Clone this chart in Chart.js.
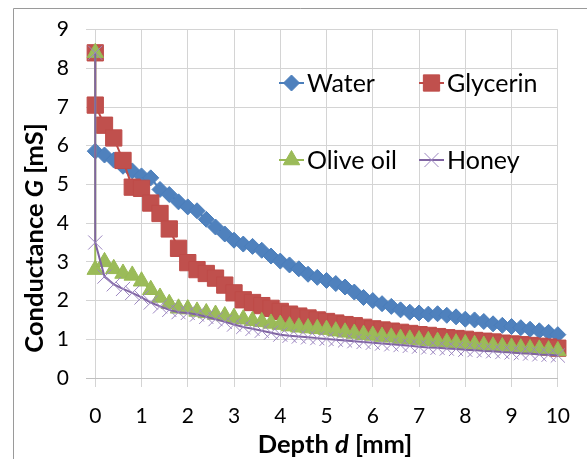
<!DOCTYPE html>
<html><head><meta charset="utf-8">
<script src="https://cdn.jsdelivr.net/npm/chart.js@4.4.1/dist/chart.umd.min.js"></script>
<style>html,body{margin:0;padding:0;background:#fff}#wrap{position:relative;width:587px;height:459px}</style>
</head><body><div id="wrap"><canvas id="c" width="587" height="459"></canvas></div>
<script>
// Depth d [mm]; the first row is the reading taken at the surface before immersion
const depthMm = [0,0,0.2,0.4,0.6,0.8,1,1.2,1.4,1.6,1.8,2,2.2,2.4,2.6,2.8,3,3.2,3.4,3.6,3.8,4,4.2,4.4,4.6,4.8,5,5.2,5.4,5.6,5.8,6,6.2,6.4,6.6,6.8,7,7.2,7.4,7.6,7.8,8,8.2,8.4,8.6,8.8,9,9.2,9.4,9.6,9.8,10];
// Conductance G [mS]
const water = [null,5.86,5.76,5.63,5.47,5.35,5.22,5.17,4.87,4.74,4.55,4.42,4.32,4.1,3.9,3.72,3.56,3.46,3.4,3.3,3.15,3.02,2.92,2.82,2.68,2.6,2.52,2.44,2.35,2.22,2.08,2.0,1.92,1.85,1.76,1.7,1.68,1.65,1.66,1.62,1.58,1.52,1.5,1.46,1.4,1.36,1.33,1.3,1.26,1.22,1.18,1.12];
const glycerin = [8.4,7.05,6.53,6.2,5.62,4.93,4.9,4.52,4.25,3.85,3.35,2.98,2.8,2.7,2.58,2.4,2.2,2.02,1.95,1.87,1.8,1.72,1.65,1.6,1.55,1.5,1.46,1.42,1.38,1.35,1.31,1.27,1.24,1.21,1.18,1.15,1.12,1.1,1.07,1.04,1.02,1.0,0.97,0.95,0.93,0.9,0.88,0.86,0.84,0.82,0.8,0.77];
const oliveOil = [8.4,2.8,3.0,2.82,2.7,2.65,2.5,2.28,2.08,1.92,1.8,1.78,1.72,1.68,1.64,1.6,1.56,1.52,1.48,1.45,1.41,1.38,1.34,1.31,1.29,1.27,1.25,1.21,1.18,1.15,1.12,1.1,1.07,1.05,1.02,1.0,0.98,0.96,0.94,0.92,0.9,0.88,0.86,0.84,0.82,0.8,0.79,0.77,0.75,0.74,0.72,0.7];
const honey = [8.4,3.5,2.62,2.42,2.3,2.2,2.08,1.95,1.85,1.76,1.7,1.68,1.64,1.58,1.52,1.45,1.38,1.32,1.27,1.22,1.17,1.12,1.09,1.07,1.05,1.03,1.01,0.99,0.97,0.95,0.93,0.91,0.89,0.87,0.85,0.83,0.81,0.79,0.78,0.76,0.75,0.73,0.72,0.7,0.69,0.67,0.66,0.64,0.63,0.61,0.6,0.58];
const seriesNames = ['Water','Glycerin','Olive oil','Honey'];
const xTickValues = [0,1,2,3,4,5,6,7,8,9,10];
const yTickValues = [0,1,2,3,4,5,6,7,8,9];

const FONT = 'Lato, "Open Sans", "DejaVu Sans", sans-serif';
const toPts = arr => depthMm.map((x, i) => ({x: x, y: arr[i]}));

const styles = [
  {line:'#4A7EBB', fill:'#4F81BD', edge:'#4A7EBB', shape:'rectRot', r:8, bw:1, order:4},
  {line:'#BE4B48', fill:'#C0504D', edge:'#BE4B48', shape:'rect', r:11.5, bw:1, order:3},
  {line:'#98B954', fill:'#9BBB59', edge:'#98B954', shape:'triangle', r:9.5, bw:1, order:2},
  {line:'#8064A2', fill:'#8064A2', edge:'#9C86C0', shape:'crossRot', r:10, bw:1, order:1}
];
const seriesData = [water, glycerin, oliveOil, honey];

const datasets = seriesNames.map((name, i) => ({
  label: name,
  data: toPts(seriesData[i]),
  borderColor: styles[i].line,
  backgroundColor: styles[i].fill,
  borderWidth: 2,
  pointStyle: styles[i].shape,
  pointRadius: styles[i].r,
  pointBackgroundColor: styles[i].fill,
  pointBorderColor: styles[i].edge,
  pointBorderWidth: styles[i].bw,
  order: styles[i].order,
  clip: 20,
  tension: 0
}));

const framePlugin = {
  id: 'frame',
  beforeDraw(chart) {
    const ctx = chart.ctx;
    ctx.save();
    ctx.strokeStyle = '#9a9a9a';
    ctx.lineWidth = 1;
    ctx.beginPath();
    ctx.moveTo(13.5, 459);
    ctx.lineTo(13.5, 8.5);
    ctx.lineTo(587, 8.5);
    ctx.stroke();
    ctx.restore();
  }
};

// draws bold text with one italic part, sized to span the given width
function drawRich(ctx, parts, cx, baseY, targetW) {
  const measure = size => {
    let t = 0;
    parts.forEach(p => { ctx.font = (p.it ? 'italic ' : '') + 'bold ' + size + 'px ' + FONT; t += ctx.measureText(p.t).width; });
    return t;
  };
  const size = Math.round(20 * targetW / measure(20) * 2) / 2;
  const total = measure(size);
  let x = cx - total / 2;
  parts.forEach(p => {
    ctx.font = (p.it ? 'italic ' : '') + 'bold ' + size + 'px ' + FONT;
    ctx.fillText(p.t, x, baseY);
    x += ctx.measureText(p.t).width;
  });
}

const titlePlugin = {
  id: 'axisTitles',
  afterDraw(chart) {
    const ctx = chart.ctx;
    ctx.save();
    ctx.fillStyle = '#000';
    ctx.textBaseline = 'alphabetic';
    ctx.textAlign = 'left';
    drawRich(ctx, [{t:'Depth '}, {t:'d', it:true}, {t:' [mm]'}], 335, 453, 156);
    ctx.translate(43, 238);
    ctx.rotate(-Math.PI / 2);
    drawRich(ctx, [{t:'Conductance '}, {t:'G', it:true}, {t:' [mS]'}], 0, 0, 230);
    ctx.restore();
  }
};

const legendPlugin = {
  id: 'inLegend',
  afterDatasetsDraw(chart) {
    const ctx = chart.ctx;
    const spots = [{x:279, y:83}, {x:419, y:83}, {x:279, y:160}, {x:419, y:160}];
    ctx.save();
    chart.data.datasets.forEach((ds, i) => {
      const s = spots[i];
      ctx.strokeStyle = ds.borderColor;
      ctx.lineWidth = 2;
      ctx.beginPath();
      ctx.moveTo(s.x, s.y);
      ctx.lineTo(s.x + 25, s.y);
      ctx.stroke();
      ctx.fillStyle = ds.pointBackgroundColor;
      ctx.strokeStyle = ds.pointBorderColor;
      ctx.lineWidth = ds.pointBorderWidth;
      Chart.helpers.drawPoint(ctx, {pointStyle: ds.pointStyle, radius: ds.pointRadius, rotation: 0, borderWidth: ds.pointBorderWidth}, s.x + 12.5, s.y);
      ctx.fillStyle = '#000';
      ctx.font = '25px ' + FONT;
      ctx.textBaseline = 'alphabetic';
      ctx.textAlign = 'left';
      ctx.fillText(ds.label, s.x + 28, s.y + 9);
    });
    ctx.restore();
  }
};

const gridColor = '#d4d4d4';

new Chart(document.getElementById('c'), {
  type: 'line',
  data: { datasets: datasets },
  options: {
    responsive: false,
    animation: false,
    devicePixelRatio: 1,
    layout: { padding: { left: 0, right: 24, top: 25, bottom: 0 } },
    plugins: { legend: { display: false }, tooltip: { enabled: false } },
    elements: { line: { fill: false } },
    scales: {
      x: {
        type: 'linear', min: -0.2, max: 10,
        afterBuildTicks: s => { s.ticks = xTickValues.map(v => ({value: v})); },
        afterFit: s => { s.height = 81; },
        grid: { color: gridColor, tickLength: 9, drawTicks: true, tickColor: gridColor },
        border: { display: true, color: '#bfbfbf' },
        ticks: { font: { family: FONT, size: 21 }, color: '#000', padding: 17, maxRotation: 0, autoSkip: false }
      },
      y: {
        type: 'linear', min: 0, max: 9,
        afterBuildTicks: s => { s.ticks = yTickValues.map(v => ({value: v})); },
        afterFit: s => { s.width = 86; },
        grid: { color: gridColor, drawTicks: false },
        border: { display: false },
        ticks: { font: { family: FONT, size: 21 }, color: '#000', padding: 17 }
      }
    }
  },
  plugins: [framePlugin, legendPlugin, titlePlugin]
});
</script>
</body></html>
